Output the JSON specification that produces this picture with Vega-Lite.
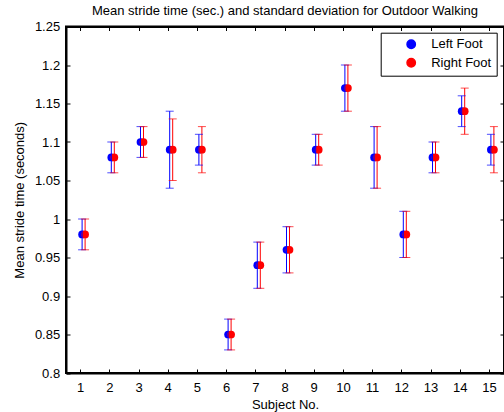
{
  "$schema": "https://vega.github.io/schema/vega-lite/v6.json",
  "width": 438,
  "height": 346.5,
  "autosize": "none",
  "padding": {"left": 66, "top": 26.5, "right": 0, "bottom": 39},
  "background": "white",
  "title": {"text": "Mean stride time (sec.) and standard deviation for Outdoor Walking", "font": "Liberation Sans", "fontSize": 13, "fontWeight": "normal", "color": "black", "anchor": "middle", "offset": 3},
  "data": {"values": [
    {"subject": 1, "foot": "Left Foot", "mean": 0.98, "lo": 0.96, "hi": 1.00},
    {"subject": 1, "foot": "Right Foot", "mean": 0.98, "lo": 0.96, "hi": 1.00},
    {"subject": 2, "foot": "Left Foot", "mean": 1.08, "lo": 1.06, "hi": 1.10},
    {"subject": 2, "foot": "Right Foot", "mean": 1.08, "lo": 1.06, "hi": 1.10},
    {"subject": 3, "foot": "Left Foot", "mean": 1.10, "lo": 1.08, "hi": 1.12},
    {"subject": 3, "foot": "Right Foot", "mean": 1.10, "lo": 1.08, "hi": 1.12},
    {"subject": 4, "foot": "Left Foot", "mean": 1.09, "lo": 1.04, "hi": 1.14},
    {"subject": 4, "foot": "Right Foot", "mean": 1.09, "lo": 1.05, "hi": 1.13},
    {"subject": 5, "foot": "Left Foot", "mean": 1.09, "lo": 1.07, "hi": 1.11},
    {"subject": 5, "foot": "Right Foot", "mean": 1.09, "lo": 1.06, "hi": 1.12},
    {"subject": 6, "foot": "Left Foot", "mean": 0.85, "lo": 0.83, "hi": 0.87},
    {"subject": 6, "foot": "Right Foot", "mean": 0.85, "lo": 0.83, "hi": 0.87},
    {"subject": 7, "foot": "Left Foot", "mean": 0.94, "lo": 0.91, "hi": 0.97},
    {"subject": 7, "foot": "Right Foot", "mean": 0.94, "lo": 0.91, "hi": 0.97},
    {"subject": 8, "foot": "Left Foot", "mean": 0.96, "lo": 0.93, "hi": 0.99},
    {"subject": 8, "foot": "Right Foot", "mean": 0.96, "lo": 0.93, "hi": 0.99},
    {"subject": 9, "foot": "Left Foot", "mean": 1.09, "lo": 1.07, "hi": 1.11},
    {"subject": 9, "foot": "Right Foot", "mean": 1.09, "lo": 1.07, "hi": 1.11},
    {"subject": 10, "foot": "Left Foot", "mean": 1.17, "lo": 1.14, "hi": 1.20},
    {"subject": 10, "foot": "Right Foot", "mean": 1.17, "lo": 1.14, "hi": 1.20},
    {"subject": 11, "foot": "Left Foot", "mean": 1.08, "lo": 1.04, "hi": 1.12},
    {"subject": 11, "foot": "Right Foot", "mean": 1.08, "lo": 1.04, "hi": 1.12},
    {"subject": 12, "foot": "Left Foot", "mean": 0.98, "lo": 0.95, "hi": 1.01},
    {"subject": 12, "foot": "Right Foot", "mean": 0.98, "lo": 0.95, "hi": 1.01},
    {"subject": 13, "foot": "Left Foot", "mean": 1.08, "lo": 1.06, "hi": 1.10},
    {"subject": 13, "foot": "Right Foot", "mean": 1.08, "lo": 1.06, "hi": 1.10},
    {"subject": 14, "foot": "Left Foot", "mean": 1.14, "lo": 1.12, "hi": 1.16},
    {"subject": 14, "foot": "Right Foot", "mean": 1.14, "lo": 1.11, "hi": 1.17},
    {"subject": 15, "foot": "Left Foot", "mean": 1.09, "lo": 1.07, "hi": 1.11},
    {"subject": 15, "foot": "Right Foot", "mean": 1.09, "lo": 1.06, "hi": 1.12}
  ]},
  "layer": [
    {
      "mark": {"type": "point", "filled": true, "size": 60, "opacity": 1},
      "encoding": {
        "x": {"field": "subject", "type": "ordinal", "scale": {"type": "band", "paddingInner": 0, "paddingOuter": 0}, "axis": {"title": "Subject No.", "labelAngle": 0, "labelPadding": 12, "titlePadding": 4, "orient": "bottom"}},
        "xOffset": {"field": "foot", "type": "nominal", "scale": {"domain": ["Left Foot", "Right Foot"], "range": [14.6, 20.6]}},
        "y": {"field": "mean", "type": "quantitative", "scale": {"domain": [0.8, 1.25], "nice": false, "zero": false}, "axis": {"title": "Mean stride time (seconds)", "values": [0.8, 0.85, 0.9, 0.95, 1, 1.05, 1.1, 1.15, 1.2, 1.25], "format": ".2~f", "labelPadding": 10.3, "titlePadding": 8, "orient": "left"}},
        "color": {"field": "foot", "type": "nominal", "scale": {"domain": ["Left Foot", "Right Foot"], "range": ["#0000ff", "#ff0000"]}, "legend": {"title": null, "orient": "none", "legendX": 314.7, "legendY": 6.2, "symbolType": "circle", "symbolSize": 70, "padding": 5, "symbolOffset": 19, "labelOffset": 13.5, "rowPadding": 3.5, "strokeColor": "black", "fillColor": "white", "labelFont": "Liberation Sans", "labelFontSize": 13, "labelColor": "black"}}
      }
    },
    {
      "mark": {"type": "rule", "strokeWidth": 1},
      "encoding": {
        "x": {"field": "subject", "type": "ordinal", "axis": {"title": null, "labels": false, "orient": "top"}},
        "xOffset": {"field": "foot", "type": "nominal"},
        "y": {"field": "lo", "type": "quantitative", "axis": {"title": null, "labels": false, "values": [0.8, 0.85, 0.9, 0.95, 1, 1.05, 1.1, 1.15, 1.2, 1.25], "orient": "right"}},
        "y2": {"field": "hi"},
        "color": {"field": "foot", "type": "nominal"}
      }
    },
    {
      "mark": {"type": "tick", "orient": "horizontal", "size": 8, "thickness": 1},
      "encoding": {
        "x": {"field": "subject", "type": "ordinal", "axis": null},
        "xOffset": {"field": "foot", "type": "nominal"},
        "y": {"field": "lo", "type": "quantitative", "axis": null},
        "color": {"field": "foot", "type": "nominal"}
      }
    },
    {
      "mark": {"type": "tick", "orient": "horizontal", "size": 8, "thickness": 1},
      "encoding": {
        "x": {"field": "subject", "type": "ordinal", "axis": null},
        "xOffset": {"field": "foot", "type": "nominal"},
        "y": {"field": "hi", "type": "quantitative", "axis": null},
        "color": {"field": "foot", "type": "nominal"}
      }
    }
  ],
  "resolve": {"axis": {"x": "independent", "y": "independent"}},
  "config": {
    "view": {"stroke": "black", "strokeWidth": 2},
    "axis": {"grid": false, "domainColor": "black", "domainWidth": 2, "tickColor": "black", "tickSize": -4, "tickWidth": 1, "labelFont": "Liberation Sans", "labelFontSize": 13, "labelColor": "black", "titleFont": "Liberation Sans", "titleFontSize": 13, "titleFontWeight": "normal", "titleColor": "black"}
  }
}
